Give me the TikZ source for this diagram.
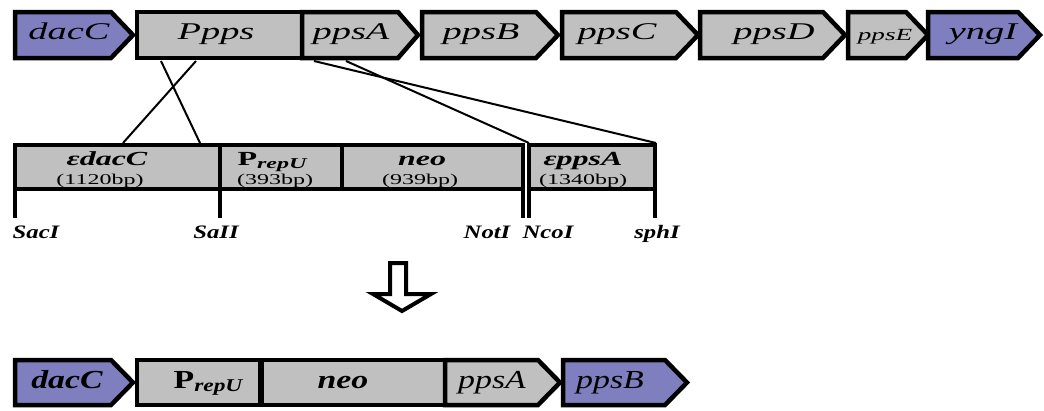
\documentclass[tikz,border=0pt]{standalone}
\usepackage{fontspec}
\setmainfont{Liberation Serif}
\newfontfamily\widefont[FakeStretch=1.6]{Liberation Serif}
\newfontfamily\midfont[FakeStretch=1.3]{Liberation Serif}
\definecolor{genepurple}{RGB}{127,127,191}
\definecolor{genegrey}{RGB}{192,192,192}
% gene arrow: left, shoulder, tip, top, bottom, fill
\newcommand\genearrow[6]{%
  \draw[gene,fill=#6] (#1,#4) -- (#2,#4) -- (#3,{(#4+#5)/2}) -- (#2,#5) -- (#1,#5) -- cycle;}
\begin{document}
\begin{tikzpicture}[x=1pt,y=-1pt,
  gene/.style={draw=black,line width=4.5pt,line join=miter},
  part/.style={draw=black,line width=4pt,fill=genegrey},
  conn/.style={line width=2pt},
  sitetick/.style={line width=3.2pt},
  txt/.style={inner sep=0pt,anchor=base},
  toplbl/.style={txt,font=\widefont\fontsize{24}{24}\selectfont\itshape},
  smalllbl/.style={txt,font=\widefont\fontsize{17}{17}\selectfont\itshape},
  partlbl/.style={txt,font=\widefont\fontsize{20}{20}\selectfont\bfseries\itshape},
  bplbl/.style={txt,font=\widefont\fontsize{15}{15}\selectfont},
  sitelbl/.style={txt,font=\midfont\fontsize{19}{19}\selectfont\bfseries\itshape},
  botlbl/.style={txt,font=\midfont\fontsize{26}{26}\selectfont\bfseries\itshape},
  botlblreg/.style={txt,font=\midfont\fontsize{26}{26}\selectfont\itshape},
  hollow/.style={draw=black,line width=4pt,fill=white,line join=miter}
]
\useasboundingbox (0,0) rectangle (1044,410);

% ---- genomic locus ----
\genearrow{15}{111}{133}{12}{58}{genepurple}
\draw[gene,fill=genegrey] (137,12) rectangle (302,58);
\genearrow{302}{398}{418}{12}{58}{genegrey}
\genearrow{422}{536}{558}{12}{58}{genegrey}
\genearrow{562}{676}{698}{12}{58}{genegrey}
\genearrow{700}{823}{845}{12}{58}{genegrey}
\genearrow{848}{906}{928}{12}{58}{genegrey}
\genearrow{928}{1018}{1040}{12}{58}{genepurple}

\node[toplbl] (tdacC) at (69,39) {dacC};
\node[toplbl] (tppps) at (216,39) {Ppps};
\node[toplbl] (tppsA) at (351,39) {ppsA};
\node[toplbl] (tppsB) at (481,39) {ppsB};
\node[toplbl] (tppsC) at (617,39) {ppsC};
\node[toplbl] (tppsD) at (774,39) {ppsD};
\node[smalllbl] (tppsE) at (885,40) {ppsE};
\node[toplbl] (tyngI) at (983,39) {yngI};

% ---- cassette ----
\draw[part] (15,145) rectangle (220,189);
\draw[part] (220,145) rectangle (342,189);
\draw[part] (342,145) rectangle (523,189);
\draw[part] (529,145) rectangle (655,189);

\draw[sitetick] (15,189) -- (15,218);
\draw[sitetick] (220,189) -- (220,218);
\draw[sitetick] (523,189) -- (523,218);
\draw[sitetick] (529,189) -- (529,218);
\draw[sitetick] (655,189) -- (655,218);

\node[partlbl] (mdacC) at (107,165) {εdacC};
\node[bplbl] (mdacCbp) at (100,184) {(1120bp)};
\node[partlbl] (mprep) at (272,165) {\upshape P\raisebox{-3pt}{\fontsize{15}{15}\selectfont\itshape repU}};
\node[bplbl] (mprepbp) at (275,184) {(393bp)};
\node[partlbl] (mneo) at (422,165) {neo};
\node[bplbl] (mneobp) at (420,184) {(939bp)};
\node[partlbl] (mppsA) at (583,165) {εppsA};
\node[bplbl] (mppsAbp) at (583,184) {(1340bp)};

\node[sitelbl] (sSacI) at (36,238) {SacI};
\node[sitelbl] (sSalI) at (216,238) {SaII};
\node[sitelbl] (sNotI) at (487,238) {NotI};
\node[sitelbl] (sNcoI) at (548,238) {NcoI};
\node[sitelbl] (sSphI) at (657,238) {sphI};

% ---- homology crossovers ----
\coordinate (up1) at (161,61);
\coordinate (up2) at (196,61);
\coordinate (dn1) at (314,61);
\coordinate (dn2) at (346,61);
\coordinate (cs1) at (123,143);
\coordinate (cs2) at (200,143);
\coordinate (cs3) at (529,143);
\coordinate (cs4) at (656,143);
\draw[conn] (up1) -- (cs2);
\draw[conn] (up2) -- (cs1);
\draw[conn] (dn1) -- (cs4);
\draw[conn] (dn2) -- (cs3);

% ---- result arrow ----
\draw[hollow] (390,263) -- (406,263) -- (406,294) -- (431,294) -- (402,311)
  -- (373,294) -- (390,294) -- cycle;

% ---- recombinant locus ----
\genearrow{15}{111}{133}{360}{405}{genepurple}
\draw[gene,fill=genegrey] (137,360) rectangle (260,405);
\draw[gene,fill=genegrey] (262,360) rectangle (445,405);
\genearrow{445}{538}{560}{360}{405}{genegrey}
\genearrow{563}{665}{687}{360}{405}{genepurple}

\node[botlbl] (rdacC) at (67,388) {dacC};
\node[botlbl] (rprep) at (208,388) {\upshape P\raisebox{-3pt}{\fontsize{18}{18}\selectfont\itshape repU}};
\node[botlbl] (rneo) at (343,388) {neo};
\node[botlblreg] (rppsA) at (492,388) {ppsA};
\node[botlblreg] (rppsB) at (610,388) {ppsB};
\end{tikzpicture}
\end{document}
